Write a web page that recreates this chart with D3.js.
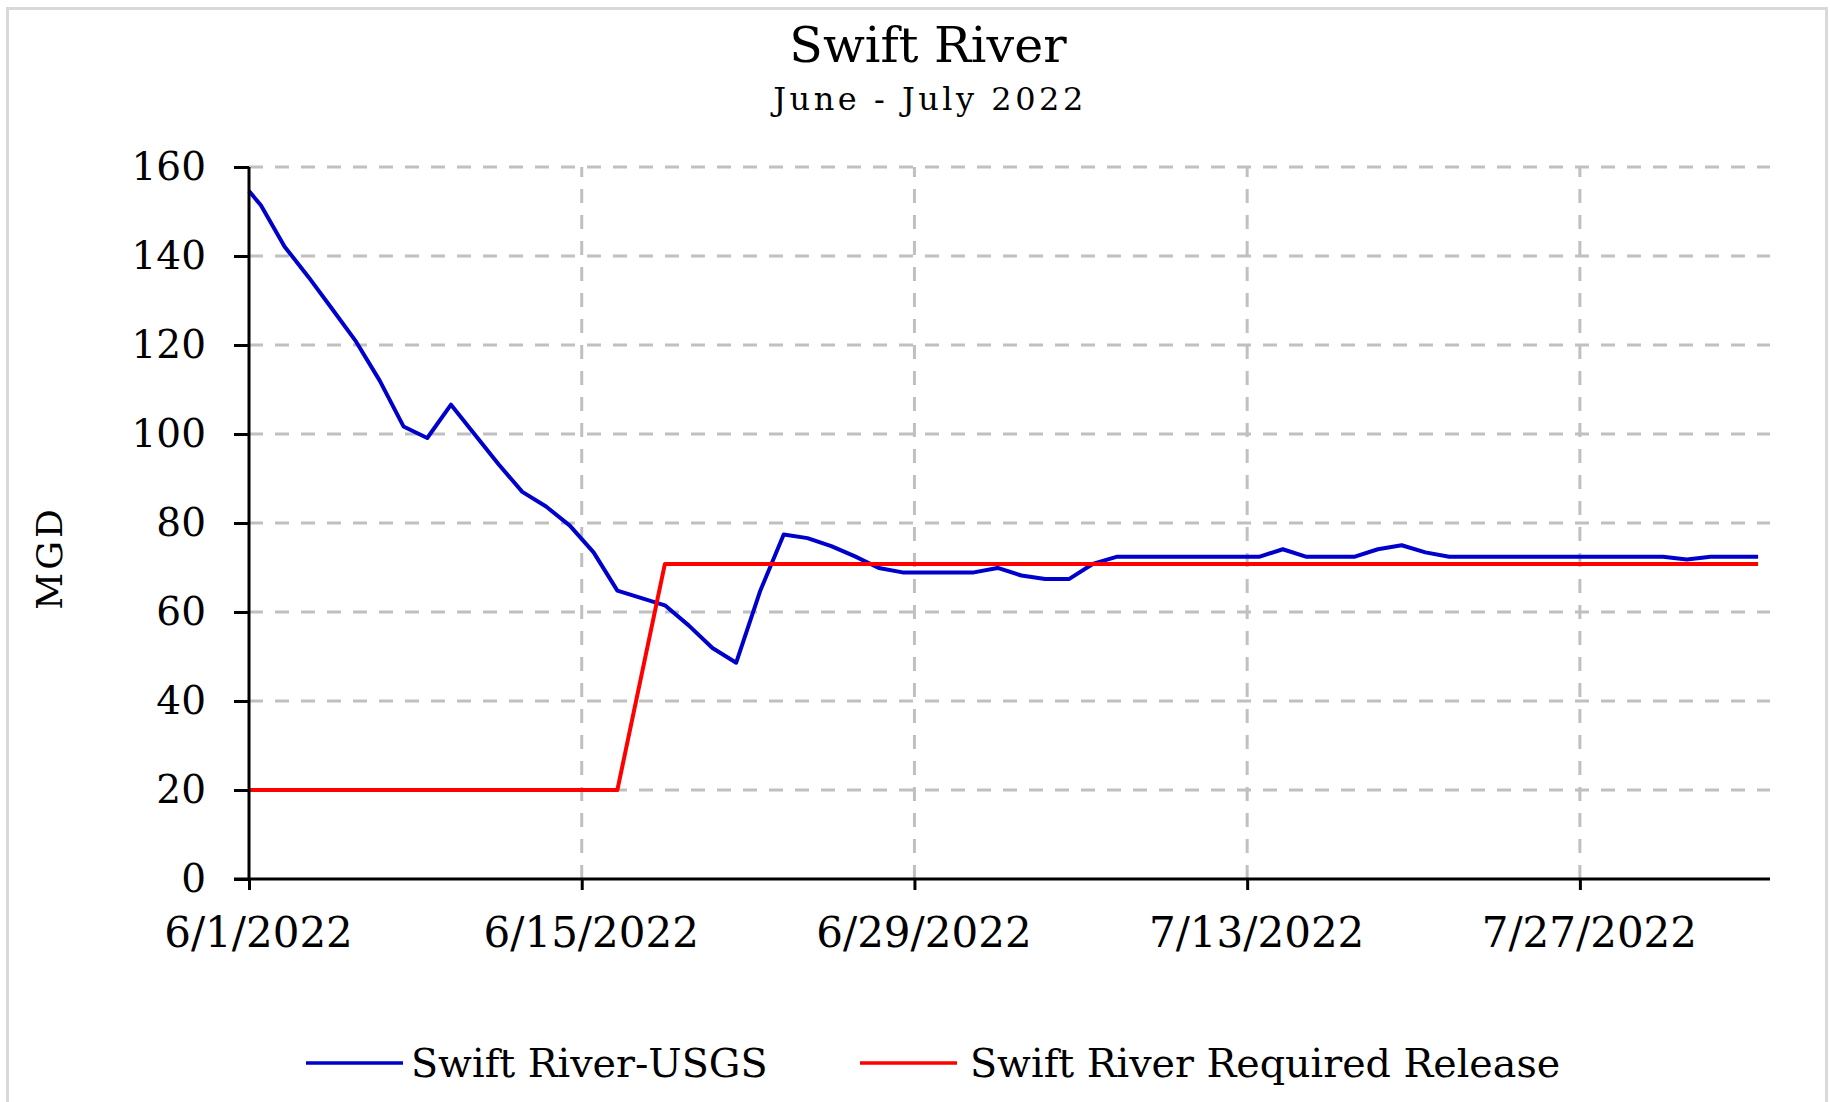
<!DOCTYPE html>
<html>
<head>
<meta charset="utf-8">
<script src="https://cdn.jsdelivr.net/npm/d3@7"></script>
<style>
  html, body { margin: 0; padding: 0; background: #fff; }
  svg { display: block; }
  text { font-family: "DejaVu Serif", "Liberation Serif", serif; fill: #000; }
</style>
</head>
<body>
<svg id="chart" width="1830" height="1102"></svg>
<script>
// ---------------- DATA ----------------
const titleText = "Swift River";
const subtitleText = "June - July 2022";
const yAxisTitle = "MGD";
const seriesNames = ["Swift River-USGS", "Swift River Required Release"];
const seriesColors = ["#0000CC", "#FF0000"];

const dates = [
  "2022-06-01T00:00", "2022-06-01T12:00", "2022-06-02T12:00", "2022-06-03T12:00", "2022-06-04T12:00",
  "2022-06-05T12:00", "2022-06-06T12:00", "2022-06-07T12:00", "2022-06-08T12:00", "2022-06-09T12:00",
  "2022-06-10T12:00", "2022-06-11T12:00", "2022-06-12T12:00", "2022-06-13T12:00", "2022-06-14T12:00",
  "2022-06-15T12:00", "2022-06-16T12:00", "2022-06-18T12:00", "2022-06-19T12:00", "2022-06-20T12:00",
  "2022-06-21T12:00", "2022-06-22T12:00", "2022-06-23T12:00", "2022-06-24T12:00", "2022-06-25T12:00",
  "2022-06-26T12:00", "2022-06-27T12:00", "2022-06-28T12:00", "2022-06-29T12:00", "2022-06-30T12:00",
  "2022-07-01T12:00", "2022-07-02T12:00", "2022-07-03T12:00", "2022-07-04T12:00", "2022-07-05T12:00",
  "2022-07-06T12:00", "2022-07-07T12:00", "2022-07-08T12:00", "2022-07-09T12:00", "2022-07-10T12:00",
  "2022-07-11T12:00", "2022-07-12T12:00", "2022-07-13T12:00", "2022-07-14T12:00", "2022-07-15T12:00",
  "2022-07-16T12:00", "2022-07-17T12:00", "2022-07-18T12:00", "2022-07-19T12:00", "2022-07-20T12:00",
  "2022-07-21T12:00", "2022-07-22T12:00", "2022-07-23T12:00", "2022-07-24T12:00", "2022-07-25T12:00",
  "2022-07-26T12:00", "2022-07-27T12:00", "2022-07-28T12:00", "2022-07-29T12:00", "2022-07-30T12:00",
  "2022-07-31T12:00", "2022-08-01T12:00", "2022-08-02T12:00", "2022-08-03T12:00"
];

const usgsFlow = [
  154.6, 151.4, 142.1, 135.3, 128.1,
  120.8, 112.0, 101.7, 99.1, 106.6,
  99.9, 93.2, 87.0, 83.7, 79.4,
  73.4, 64.8, 61.5, 57.0, 51.9,
  48.6, 64.6, 77.4, 76.6, 74.8,
  72.5, 69.9, 68.9, 68.9, 68.9,
  68.9, 69.9, 68.2, 67.4, 67.4,
  70.8, 72.4, 72.4, 72.4, 72.4,
  72.4, 72.4, 72.4, 74.1, 72.4,
  72.4, 72.4, 74.1, 75.0, 73.4,
  72.4, 72.4, 72.4, 72.4, 72.4,
  72.4, 72.4, 72.4, 72.4, 72.4,
  71.8, 72.4, 72.4, 72.4
];

const requiredRelease = [
  20, 20, 20, 20, 20,
  20, 20, 20, 20, 20,
  20, 20, 20, 20, 20,
  20, 20, 70.8, 70.8, 70.8,
  70.8, 70.8, 70.8, 70.8, 70.8,
  70.8, 70.8, 70.8, 70.8, 70.8,
  70.8, 70.8, 70.8, 70.8, 70.8,
  70.8, 70.8, 70.8, 70.8, 70.8,
  70.8, 70.8, 70.8, 70.8, 70.8,
  70.8, 70.8, 70.8, 70.8, 70.8,
  70.8, 70.8, 70.8, 70.8, 70.8,
  70.8, 70.8, 70.8, 70.8, 70.8,
  70.8, 70.8, 70.8, 70.8
];

const xDomain = ["2022-06-01T00:00", "2022-08-04T00:00"];
const xTickDates = ["2022-06-01T00:00", "2022-06-15T00:00", "2022-06-29T00:00", "2022-07-13T00:00", "2022-07-27T00:00"];
const yTicks = [0, 20, 40, 60, 80, 100, 120, 140, 160];

// ---------------- DRAW ----------------
const parse = d3.timeParse("%Y-%m-%dT%H:%M");
const svg = d3.select("#chart");
const W = 1830, H = 1102;

svg.append("rect").attr("x", 0).attr("y", 0).attr("width", W).attr("height", H).attr("fill", "#fff");
// chart frame
svg.append("rect").attr("x", 7.5).attr("y", 8.5).attr("width", 1819).attr("height", 1120)
  .attr("fill", "none").attr("stroke", "#d9d9d9").attr("stroke-width", 3);

const plot = { left: 249, right: 1770, top: 167, bottom: 879 };

const x = d3.scaleTime().domain(xDomain.map(parse)).range([plot.left, plot.right]);
const y = d3.scaleLinear().domain([0, 160]).range([plot.bottom, plot.top]);

// gridlines
const grid = svg.append("g").attr("stroke", "#c0c0c0").attr("stroke-width", 3)
  .attr("stroke-dasharray", "14,12");
grid.selectAll("line.h").data(yTicks.filter(v => v > 0)).join("line")
  .attr("x1", plot.left).attr("x2", plot.right)
  .attr("y1", d => y(d)).attr("y2", d => y(d));
grid.selectAll("line.v").data(xTickDates.slice(1).map(parse)).join("line")
  .attr("y1", plot.bottom).attr("y2", plot.top)
  .attr("x1", d => x(d)).attr("x2", d => x(d));

// lines
const pts = dates.map(parse);
const lineGen = d3.line().x(d => x(d[0])).y(d => y(d[1]));
[usgsFlow, requiredRelease].forEach((vals, i) => {
  svg.append("path")
    .datum(pts.map((p, j) => [p, vals[j]]))
    .attr("fill", "none")
    .attr("stroke", seriesColors[i])
    .attr("stroke-width", 4)
    .attr("stroke-linejoin", "round")
    .attr("d", lineGen);
});

// axes
const xAxis = d3.axisBottom(x).tickValues(xTickDates.map(parse))
  .tickFormat(d => `${d.getMonth() + 1}/${d.getDate()}/${d.getFullYear()}`)
  .tickSize(11).tickPadding(27);
const gx = svg.append("g").attr("transform", `translate(0,${plot.bottom})`).call(xAxis);
gx.select(".domain").attr("stroke", "#000").attr("stroke-width", 3)
  .attr("d", `M${plot.left - 15},0H${plot.right}`);
gx.selectAll(".tick line").attr("stroke", "#000").attr("stroke-width", 3);
gx.selectAll(".tick text").attr("font-size", 42).attr("font-family", "DejaVu Serif")
  .attr("fill", "#000").attr("dx", 9);

const yAxis = d3.axisLeft(y).tickValues(yTicks).tickSize(15).tickPadding(28);
const gy = svg.append("g").attr("transform", `translate(${plot.left},0)`).call(yAxis);
gy.select(".domain").attr("stroke", "#000").attr("stroke-width", 3)
  .attr("d", `M0,${plot.top}V${plot.bottom}`);
gy.selectAll(".tick line").attr("stroke", "#000").attr("stroke-width", 3);
gy.selectAll(".tick text").attr("font-size", 39).attr("font-family", "DejaVu Serif").attr("fill", "#000");

// titles
svg.append("text").attr("x", 928).attr("y", 62).attr("text-anchor", "middle")
  .attr("font-size", 49).text(titleText);
svg.append("text").attr("x", 930).attr("y", 110).attr("text-anchor", "middle")
  .attr("font-size", 32).attr("letter-spacing", 3.5).text(subtitleText);
svg.append("text").attr("transform", "translate(62,558) rotate(-90)")
  .attr("text-anchor", "middle").attr("font-size", 36).attr("letter-spacing", 3).text(yAxisTitle);

// legend
const legendItems = [
  { x1: 306, x2: 403, tx: 411 },
  { x1: 860, x2: 957, tx: 970 }
];
const lg = svg.append("g");
legendItems.forEach((it, i) => {
  lg.append("line").attr("x1", it.x1).attr("x2", it.x2).attr("y1", 1063).attr("y2", 1063)
    .attr("stroke", seriesColors[i]).attr("stroke-width", 3.5);
  lg.append("text").attr("x", it.tx).attr("y", 1077).attr("font-size", 39.6).text(seriesNames[i]);
});
</script>
</body>
</html>
